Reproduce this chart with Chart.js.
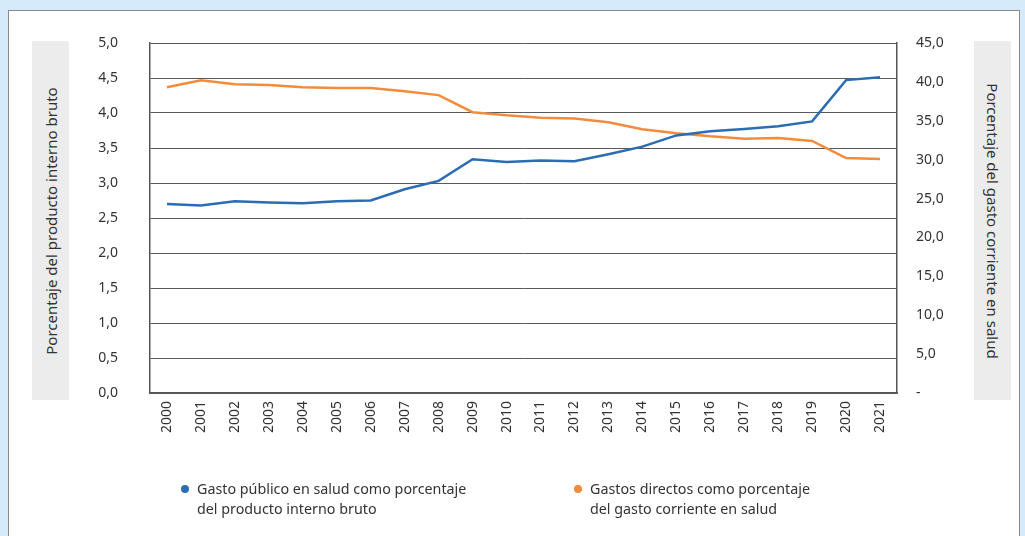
<!DOCTYPE html>
<html>
<head>
<meta charset="utf-8">
<script src="https://cdn.jsdelivr.net/npm/chart.js@4"></script>
<style>
  html, body { margin: 0; padding: 0; }
  body { width: 1025px; height: 536px; background: #d6ebf9; position: relative; overflow: hidden; font-family: "Noto Sans", sans-serif; }
  #panel { position: absolute; left: 8px; top: 10px; width: 1012px; height: 540px; background: #fff; border: 1px solid #8a8a8a; box-sizing: border-box; }
  #chartWrap { position: absolute; left: 0; top: 0; width: 1025px; height: 536px; }
  .axisBox { position: absolute; top: 41px; height: 359px; width: 37px; background: #ececec; }
  .axisBox span { position: absolute; left: 50%; top: 50%; white-space: nowrap; font-size: 15px; color: #333; }
  #leftBox { left: 32px; }
  #leftBox span { transform: translate(-50%, -50%) rotate(-90deg); }
  #rightBox { left: 974px; }
  #rightBox span { transform: translate(-50%, -50%) rotate(90deg); }
  .legendItem { position: absolute; top: 479px; font-size: 14.3px; line-height: 20px; color: #333; }
  .legendItem i { position: absolute; left: -16px; top: 6px; width: 8px; height: 8px; border-radius: 50%; }
</style>
</head>
<body>
<div id="panel"></div>
<div id="leftBox" class="axisBox"><span>Porcentaje del producto interno bruto</span></div>
<div id="rightBox" class="axisBox"><span>Porcentaje del gasto corriente en salud</span></div>
<div id="chartWrap"><canvas id="chart"></canvas></div>
<div class="legendItem" style="left:197px"><i style="background:#2b6cb5"></i>Gasto público en salud como porcentaje<br>del producto interno bruto</div>
<div class="legendItem" style="left:590px"><i style="background:#f28c3c"></i>Gastos directos como porcentaje<br>del gasto corriente en salud</div>
<script>
const years = ['2000','2001','2002','2003','2004','2005','2006','2007','2008','2009','2010',
               '2011','2012','2013','2014','2015','2016','2017','2018','2019','2020','2021'];

// Gasto público en salud (% del PIB) - eje izquierdo
const gastoPublico = [2.70, 2.68, 2.74, 2.72, 2.71, 2.74, 2.75, 2.91, 3.03, 3.34, 3.30,
                      3.32, 3.31, 3.41, 3.52, 3.68, 3.74, 3.77, 3.81, 3.88, 4.47, 4.51];

// Gastos directos (% del gasto corriente en salud) - eje derecho
const gastosDirectos = [39.3, 40.2, 39.7, 39.6, 39.3, 39.2, 39.2, 38.8, 38.3, 36.1, 35.7,
                        35.4, 35.3, 34.8, 33.9, 33.4, 33.0, 32.7, 32.8, 32.4, 30.2, 30.1];

const fmt = v => v.toFixed(1).replace('.', ',');
const tickFont = { family: '"Noto Sans", sans-serif', size: 14 };

const ctx = document.getElementById('chart').getContext('2d');
const chart = new Chart(ctx, {
    type: 'line',
    data: {
        labels: years,
        datasets: [
            {
                label: 'Gasto público en salud como porcentaje del producto interno bruto',
                data: gastoPublico,
                borderColor: '#2b6cb5',
                borderWidth: 2.5,
                pointRadius: 0,
                yAxisID: 'y',
                tension: 0
            },
            {
                label: 'Gastos directos como porcentaje del gasto corriente en salud',
                data: gastosDirectos,
                borderColor: '#f28c3c',
                borderWidth: 2.5,
                pointRadius: 0,
                yAxisID: 'y1',
                tension: 0
            }
        ]
    },
    options: {
        responsive: true,
        maintainAspectRatio: false,
        animation: false,
        layout: { padding: { top: 43, left: 0, right: 0, bottom: 0 } },
        plugins: { legend: { display: false }, tooltip: { enabled: false } },
        scales: {
            x: {
                offset: true,
                grid: { display: false, drawTicks: false },
                border: { display: true, color: '#555', width: 1.5 },
                ticks: { minRotation: 90, maxRotation: 90, padding: 8, color: '#333', font: tickFont, autoSkip: false },
                afterFit: s => { s.height = 143; }
            },
            y: {
                position: 'left',
                min: 0, max: 5,
                grid: { color: '#5a5a5a', lineWidth: 1, drawTicks: false },
                border: { display: true, color: '#555', width: 1.5 },
                ticks: { stepSize: 0.5, padding: 32, color: '#333', font: tickFont, callback: v => fmt(v) },
                afterFit: s => { s.width = 150; }
            },
            y1: {
                position: 'right',
                min: 0, max: 45,
                grid: { display: false, drawTicks: false },
                border: { display: true, color: '#555', width: 1.5 },
                ticks: { stepSize: 5, padding: 19, color: '#333', font: tickFont,
                         callback: v => v === 0 ? '-' : fmt(v) },
                afterFit: s => { s.width = 128; }
            }
        }
    }
});
</script>
</body>
</html>
